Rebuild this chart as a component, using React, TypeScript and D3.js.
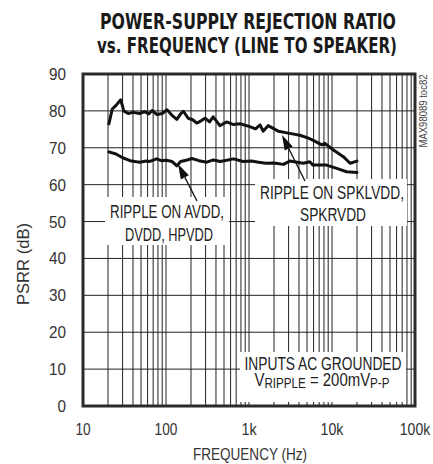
import React from "react";
import * as d3 from "d3";

// PSRR curves (Hz, dB)
const spkFreq = [20.5, 22.5, 25, 28.5, 31, 35, 40, 48, 55, 62, 68, 78, 90, 103, 118, 135, 150, 162, 185, 210, 235, 265, 295, 335, 370, 446, 537, 650, 780, 1000, 1200, 1360, 1480, 1700, 2250, 3100, 4100, 5200, 6200, 7500, 8200, 10400, 13700, 16500, 20000];
const spkDb = [76.5, 80.5, 81.5, 83, 80, 79.3, 79.6, 79.3, 79.8, 79.2, 80.1, 79, 79.3, 80.3, 78.8, 77.7, 79.2, 79.9, 78, 77.6, 76.7, 77.3, 78, 77, 78.4, 76, 77, 76.3, 76.5, 75.8, 75.1, 76.2, 74.5, 76, 74.5, 73.9, 73.4, 72.6, 71.8, 70.8, 71.2, 69.4, 67.6, 65.8, 66.4];

const avddFreq = [20.5, 25, 30, 37, 48, 58, 64, 77, 88, 101, 118, 135, 150, 175, 205, 250, 310, 372, 450, 540, 650, 850, 1070, 1300, 1600, 2000, 2600, 3100, 4500, 5400, 5900, 8600, 11400, 15000, 20000];
const avddDb = [68.9, 68.3, 67.3, 66.5, 66.1, 66.4, 66.3, 67, 66.5, 66.6, 66.3, 65.1, 66.3, 66.6, 67.1, 66.5, 66.1, 66.7, 66.3, 66.6, 67, 66.3, 66.4, 66.1, 65.8, 65.9, 65.5, 66.4, 65.8, 66.2, 65.3, 65.3, 64.4, 63.5, 63.3];

const yTicks = [0, 10, 20, 30, 40, 50, 60, 70, 80, 90];
const xTicks = [10, 100, 1000, 10000, 100000];
const xTickLabels = ["10", "100", "1k", "10k", "100k"];

const W = 433;
const H = 464;
const left = 83, right = 415, top = 74, bottom = 406;
const sans = "'Liberation Sans', Arial, sans-serif";

// squeeze Liberation Sans to look like the narrow face of the original
const T = (p: { x: number; y: number; w?: number; anchor?: string; children: React.ReactNode; transform?: string }) => (
  <text
    x={p.x}
    y={p.y}
    transform={p.transform}
    textAnchor={p.anchor ?? "middle"}
    textLength={p.w}
    lengthAdjust={p.w ? "spacingAndGlyphs" : undefined}
  >
    {p.children}
  </text>
);

export default function App() {
  const x = d3.scaleLog().domain([10, 100000]).range([left, right]);
  const y = d3.scaleLinear().domain([0, 90]).range([bottom, top]);

  const minor: number[] = [];
  for (let d = 10; d < 100000; d *= 10) {
    for (let k = 2; k <= 9; k++) minor.push(d * k);
  }

  const line = d3.line<[number, number]>().x(d => x(d[0])).y(d => y(d[1]));
  const spk = line(spkFreq.map((f, i) => [f, spkDb[i]] as [number, number]));
  const avdd = line(avddFreq.map((f, i) => [f, avddDb[i]] as [number, number]));

  const arrow = (x1: number, y1: number, x2: number, y2: number) => {
    const a = Math.atan2(y2 - y1, x2 - x1);
    const len = 15, w = 4.5;
    const bx = x2 - len * Math.cos(a), by = y2 - len * Math.sin(a);
    const px = -Math.sin(a) * w, py = Math.cos(a) * w;
    return (
      <g>
        <line x1={x1} y1={y1} x2={bx} y2={by} stroke="#111" strokeWidth={1.3} />
        <polygon points={`${x2},${y2} ${bx + px},${by + py} ${bx - px},${by - py}`} fill="#111" />
      </g>
    );
  };

  const xLabelW = (s: string) => s.length * 7.6;

  return (
    <svg width={W} height={H} style={{ position: "absolute", left: 0, top: 0, background: "#fff" }}>
      <g fontFamily="'DejaVu Sans Condensed', sans-serif" fontWeight="bold" fontSize={21} textAnchor="middle" fill="#1a1a1a">
        <text x={248} y={29} textLength={296} lengthAdjust="spacingAndGlyphs">POWER-SUPPLY REJECTION RATIO</text>
        <text x={247} y={53} textLength={300} lengthAdjust="spacingAndGlyphs">vs. FREQUENCY (LINE TO SPEAKER)</text>
      </g>

      {/* grid */}
      <g stroke="#222" strokeWidth={1}>
        {minor.map(f => (
          <line key={"m" + f} x1={x(f)} x2={x(f)} y1={top} y2={bottom} />
        ))}
        {xTicks.map(f => (
          <line key={"x" + f} x1={x(f)} x2={x(f)} y1={top} y2={bottom} />
        ))}
        {yTicks.map(v => (
          <line key={"y" + v} x1={left} x2={right} y1={y(v)} y2={y(v)} />
        ))}
      </g>

      {/* label boxes */}
      <g fill="#fff">
        <rect x={105} y={197} width={124} height={48} />
        <rect x={255} y={179} width={152} height={47} />
        <rect x={240} y={352} width={166} height={50} />
      </g>

      <g fontFamily={sans} fontSize={18} fill="#222">
        <T x={167} y={218} w={114}>RIPPLE ON AVDD,</T>
        <T x={169} y={241} w={88}>DVDD, HPVDD</T>
        <T x={332} y={199} w={144}>RIPPLE ON SPKLVDD,</T>
        <T x={333} y={221} w={66}>SPKRVDD</T>
        <T x={323} y={370} w={157}>INPUTS AC GROUNDED</T>
        <g transform="translate(322,386) scale(0.83,1)">
          <text x={0} y={0} textAnchor="middle">
            <tspan>V</tspan>
            <tspan fontSize={14} dy={1.5}>RIPPLE</tspan>
            <tspan dy={-1.5}>{" = 200mV"}</tspan>
            <tspan fontSize={14} dy={1.5}>P-P</tspan>
          </text>
        </g>
      </g>

      <g fill="none" stroke="#111" strokeWidth={3} strokeLinejoin="round" strokeLinecap="round">
        <path d={spk ?? ""} />
        <path d={avdd ?? ""} />
      </g>

      {arrow(197, 201, 178, 164)}
      {arrow(305, 181, 282, 135)}

      <rect x={left} y={top} width={right - left} height={bottom - top} fill="none" stroke="#2a2a2a" strokeWidth={3} />

      <g fontFamily={sans} fontSize={17} fill="#333">
        {yTicks.map(v => (
          <T key={v} x={66} y={y(v) + 6} anchor="end" w={String(v).length * 8.5}>{v}</T>
        ))}
        {xTicks.map((f, i) => (
          <T key={f} x={x(f)} y={435} w={xLabelW(xTickLabels[i])}>{xTickLabels[i]}</T>
        ))}
        <T x={250} y={460} w={114}>FREQUENCY (Hz)</T>
        <T x={0} y={0} w={82} transform="translate(29,264) rotate(-90)">PSRR (dB)</T>
      </g>

      <g fontFamily={sans} fontSize={10.5} fill="#444">
        <T x={0} y={0} w={73} transform="translate(427,111) rotate(-90)">MAX98089 toc82</T>
      </g>
    </svg>
  );
}
